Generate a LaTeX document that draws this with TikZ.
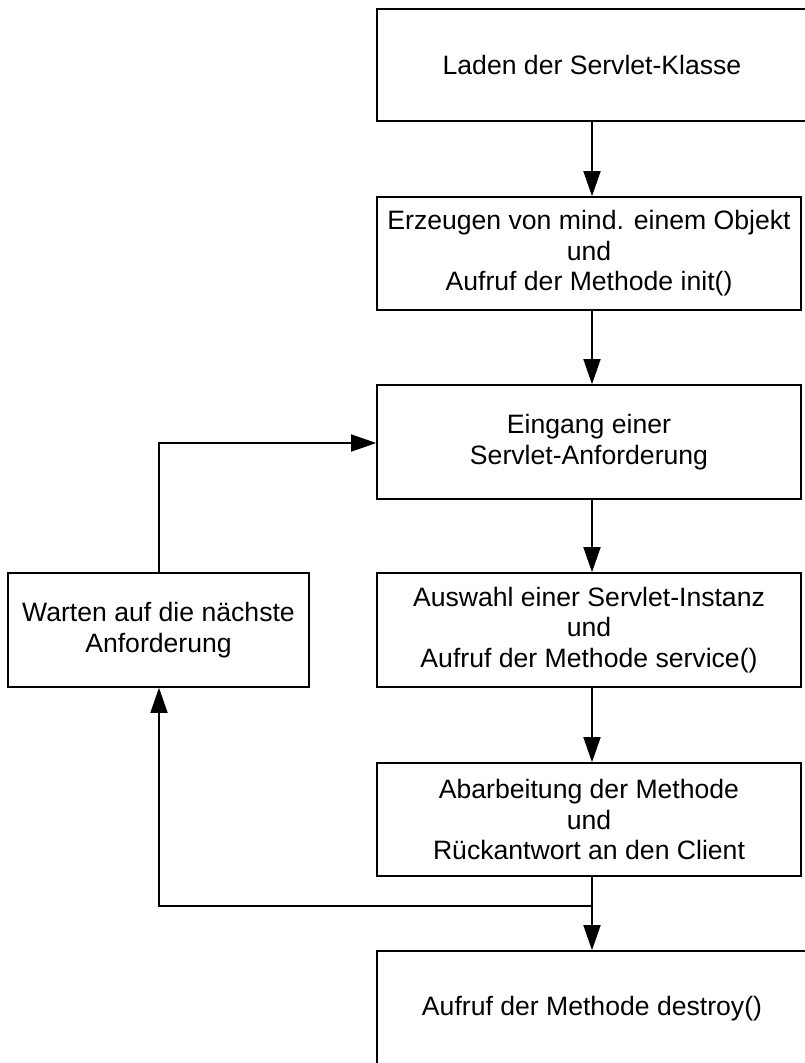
\documentclass[tikz,border=0pt]{standalone}
\usepackage{fontspec}
\setmainfont{Liberation Sans}
\usetikzlibrary{arrows.meta}
\begin{document}
\begin{tikzpicture}[x=1pt,y=-1pt,
  stepbox/.style={draw=black,line width=1.6pt,rectangle,align=center,
    inner sep=0pt,font=\fontsize{26.6}{30.5}\selectfont},
  flow/.style={draw=black,line width=1.6pt,-{Triangle[length=25pt,width=17pt]}},
  plain/.style={draw=black,line width=1.6pt}]
  \useasboundingbox (0,0) rectangle (805,1063);
  \clip (0,0) rectangle (805,1063);

  % main column of steps
  \node[stepbox,minimum width=430,minimum height=112] (load) at (592,65)
    {Laden der Servlet-Klasse};
  \node[stepbox,minimum width=424,minimum height=113] (init) at (589,253.5)
    {Erzeugen von mind. einem Objekt\\und\\Aufruf der Methode init()};
  \node[stepbox,minimum width=424,minimum height=114] (req) at (589,442)
    {Eingang einer\\Servlet-Anforderung};
  \node[stepbox,minimum width=424,minimum height=114] (serv) at (589,630)
    {Auswahl einer Servlet-Instanz\\und\\Aufruf der Methode service()};
  \node[stepbox,minimum width=424,minimum height=113] (work) at (589,819.5)
    {Abarbeitung der Methode\\und\\R\"uckantwort an den Client};
  \node[stepbox,minimum width=430,minimum height=116] (destroy) at (592,1009)
    {Aufruf der Methode destroy()};

  % waiting step on the left
  \node[stepbox,minimum width=301,minimum height=114] (wait) at (158.5,630)
    {Warten auf die n\"achste\\Anforderung};

  % helper coordinates for the connectors
  \coordinate (spine) at (592,0);
  \coordinate (split) at (592,906);
  \coordinate (loopx) at (159,0);

  % downward arrows
  \draw[flow] (load.south -| spine) -- (init.north -| spine);
  \draw[flow] (init.south -| spine) -- (req.north -| spine);
  \draw[flow] (req.south -| spine) -- (serv.north -| spine);
  \draw[flow] (serv.south -| spine) -- (work.north -| spine);
  \draw[flow] (work.south -| spine) -- (destroy.north -| spine);

  % loop back to the next request
  \draw[flow] (split) -- (split -| loopx) -- (wait.south -| loopx);
  \draw[flow] (wait.north -| loopx) -- ([yshift=-1pt]req.west -| loopx) -- ([yshift=-1pt]req.west);
\end{tikzpicture}
\end{document}
